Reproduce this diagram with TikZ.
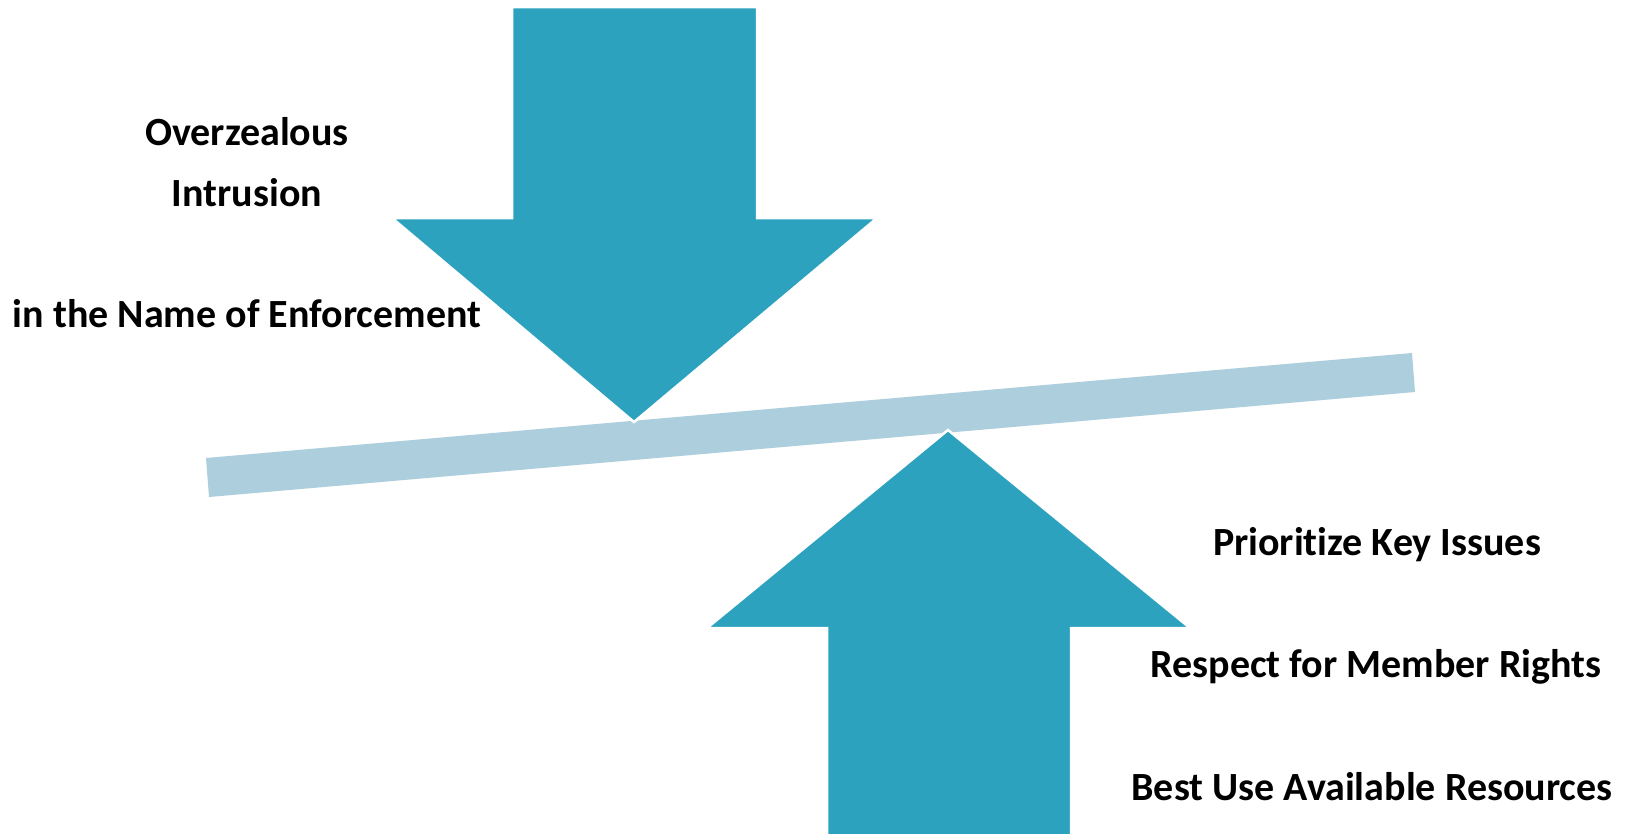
\documentclass[tikz,border=0pt]{standalone}
\usepackage{fontspec}
\setmainfont[Ligatures=NoCommon]{Carlito}
\definecolor{arrowteal}{RGB}{44,162,191}
\definecolor{beamblue}{RGB}{173,206,220}
\begin{document}
\begin{tikzpicture}[x=1pt,y=-1pt,
  bigarrow/.style={fill=arrowteal,draw=white,line width=2.5pt,line join=miter},
  beam/.style={fill=beamblue,draw=none},
  label/.style={anchor=base,inner sep=0pt,font=\fontsize{40}{48}\selectfont\bfseries}]
\useasboundingbox[fill=white] (0,0) rectangle (1635,833);
% beam
\path[beam] (206,458) -- (1412,353) -- (1415,392) -- (209,497) -- cycle;
% down arrow
\path[bigarrow] (512,7) -- (757,7) -- (757,218) -- (877,218) -- (634,422) -- (392,218) -- (512,218) -- cycle;
% up arrow
\path[bigarrow] (948,430) -- (1190,628) -- (1071,628) -- (1071,840) -- (827,840) -- (827,628) -- (707,628) -- cycle;
% left texts
\node[label] (t1) at (247,145) {Overzealous};
\node[label] (t2) at (247,206) {Intrusion};
\node[label] (t3) at (247,327) {in the Name of Enforcement};
% right texts
\node[label] (t4) at (1377,555) {Priorit\kern0pt ize Key Issues};
\node[label] (t5) at (1376,677) {Respect for Member Rights};
\node[label] (t6) at (1372,800) {Best Use Available Resources};
\end{tikzpicture}
\end{document}
